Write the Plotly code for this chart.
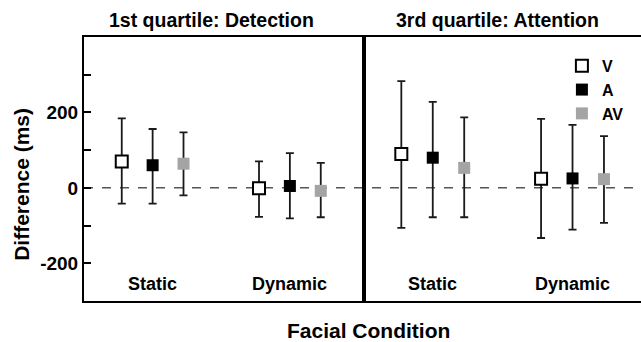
import plotly.graph_objects as go

# ---- data ----
conditions = ["Static", "Dynamic"]
series = ["V", "A", "AV"]
panel_titles = ["1st quartile: Detection", "3rd quartile: Attention"]

# panel 1: 1st quartile (Detection)
p1_mean = {"V": [70, -1], "A": [60, 5], "AV": [64, -8]}
p1_upper = {"V": [184, 70], "A": [156, 92], "AV": [147, 66]}
p1_lower = {"V": [-42, -77], "A": [-42, -81], "AV": [-20, -78]}

# panel 2: 3rd quartile (Attention)
p2_mean = {"V": [90, 24], "A": [80, 25], "AV": [53, 23]}
p2_upper = {"V": [283, 183], "A": [228, 167], "AV": [187, 137]}
p2_lower = {"V": [-106, -133], "A": [-78, -111], "AV": [-78, -93]}

y_tickvals = [-200, -100, 0, 100, 200, 300]
y_ticktext = ["-200", "", "0", "", "200", ""]

# ---- style ----
FONT = "Arial, Liberation Sans, sans-serif"
offsets = {"V": -0.225, "A": 0.0, "AV": 0.225}
marker_style = {
    "V": dict(symbol="square", size=12, color="white", line=dict(color="black", width=2)),
    "A": dict(symbol="square", size=12, color="black", line=dict(color="black", width=0)),
    "AV": dict(symbol="square", size=12, color="#a4a4a4", line=dict(color="#a4a4a4", width=0)),
}

fig = go.Figure()

panels = [(p1_mean, p1_upper, p1_lower, "x", "y"), (p2_mean, p2_upper, p2_lower, "x2", "y2")]
for pi, (mean, upper, lower, xa, ya) in enumerate(panels):
    for s in series:
        xs = [i + 1 + offsets[s] for i in range(len(conditions))]
        fig.add_trace(go.Scatter(
            x=xs, y=mean[s], mode="markers", name=s,
            marker=marker_style[s],
            error_y=dict(type="data", symmetric=False,
                         array=[u - m for u, m in zip(upper[s], mean[s])],
                         arrayminus=[m - l for m, l in zip(mean[s], lower[s])],
                         color="#1a1a1a", thickness=1.8, width=4),
            xaxis=xa, yaxis=ya, showlegend=(pi == 1),
        ))

split = 280 / 557
axis_common = dict(showgrid=False, zeroline=False, linecolor="black", linewidth=2)
fig.update_layout(
    width=641, height=342,
    margin=dict(l=84, r=0, t=37, b=41),
    plot_bgcolor="white", paper_bgcolor="white",
    font=dict(family=FONT, color="black"),
    xaxis=dict(domain=[0, split], range=[0.5, 2.54], showticklabels=False, ticks="",
               showline=True, mirror=True, **axis_common),
    yaxis=dict(range=[-300, 400], tickvals=y_tickvals, ticktext=y_ticktext,
               ticks="inside", ticklen=7, tickwidth=1.5, tickcolor="black",
               tickfont=dict(size=19, weight="bold", family=FONT),
               showline=True, mirror=True, **axis_common),
    xaxis2=dict(domain=[split, 1], range=[0.508, 2.49], showticklabels=False, ticks="",
                showline=True, mirror=True, anchor="y2", **axis_common),
    yaxis2=dict(range=[-300, 400], showticklabels=False, ticks="",
                showline=True, mirror=False, anchor="x2", **axis_common),
    legend=dict(x=0.858, y=0.955, xanchor="left", yanchor="top",
                font=dict(size=16, weight="bold", family=FONT),
                bgcolor="rgba(0,0,0,0)", tracegroupgap=0, itemwidth=30),
    showlegend=True,
)

# dashed zero line across both panels
fig.add_shape(type="line", xref="paper", yref="y", x0=0, x1=1, y0=0, y1=0,
              line=dict(color="#555555", width=1.5, dash="dash"), layer="below")

ann = []
# panel titles
for txt, xc in zip(panel_titles, [0.2293, 0.743]):
    ann.append(dict(text=txt, x=xc, y=1.064, xref="paper", yref="paper",
                    showarrow=False, font=dict(size=19.5, weight="bold", family=FONT),
                    xanchor="center", yanchor="middle"))
# category labels inside panels
for xa, ya in [("x", "y"), ("x2", "y2")]:
    for i, c in enumerate(conditions):
        ann.append(dict(text=c, x=i + 1, y=-254, xref=xa, yref=ya, showarrow=False,
                        font=dict(size=18, weight="bold", family=FONT),
                        xanchor="center", yanchor="middle"))
# axis titles
ann.append(dict(text="Facial Condition", x=0.51, y=-0.1136, xref="paper", yref="paper",
                showarrow=False, font=dict(size=21, weight="bold", family=FONT),
                xanchor="center", yanchor="middle"))
ann.append(dict(text="Difference (ms)", x=-0.1113, y=0.44, xref="paper", yref="paper",
                showarrow=False, textangle=-90, font=dict(size=21, weight="bold", family=FONT),
                xanchor="center", yanchor="middle"))
fig.update_layout(annotations=ann)

fig.write_html("out.html")
